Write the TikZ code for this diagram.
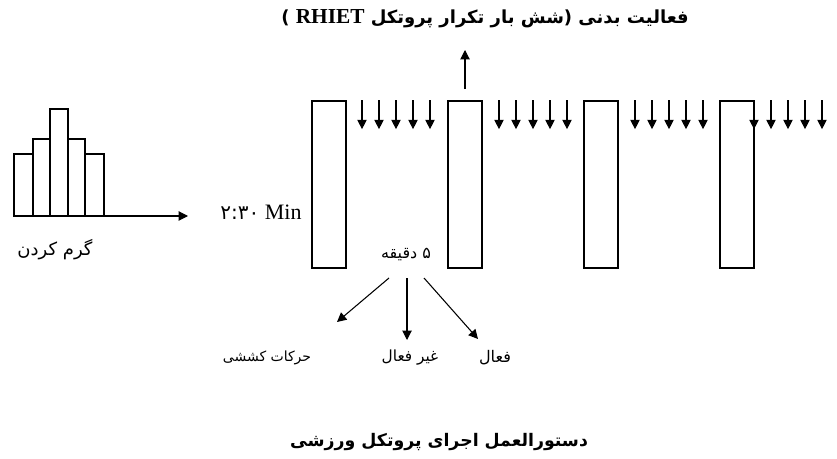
\documentclass[tikz,border=0pt]{standalone}
\usepackage{fontspec}
\setmainfont{Liberation Serif}
\newfontfamily\fa[Script=Arabic]{DejaVu Sans}
\TeXXeTstate=1
\usetikzlibrary{arrows.meta}

\begin{document}
\begin{tikzpicture}[x=0.75pt,y=-0.75pt,>={Triangle[length=7pt,width=7pt]},font=\fontsize{15}{18}\selectfont]
    \tikzstyle{bar}=[draw=black, line width=1.5pt, fill=none]
    \tikzstyle{block}=[draw=black, line width=1.5pt, minimum width=25.5pt, minimum height=125pt, inner sep=0pt]
    \tikzstyle{txt}=[inner sep=1pt, text=black]
    \tikzstyle{farsi}=[txt, font=\fa\fontsize{12}{15}\selectfont]
    \tikzstyle{link}=[->, line width=0.8pt]

    \useasboundingbox (0,0) rectangle (837,459);

    % warm-up bars
    \foreach \xa/\xb/\h in {14/33/154, 33/50/139, 50/68/109, 68/85/139, 85/104/154}
        \draw[bar] (\xa,216) rectangle (\xb,\h);
    \coordinate (w0) at (104,216);
    \coordinate (w1) at (188,216);
    \node[farsi, font=\fa\fontsize{13.5}{16}\selectfont] (warm) at (55,250) {\beginR گرم کردن\endR};
    \node[txt, font=\fontsize{16.5}{19}\selectfont] (min) at (261,212) {{\fa\fontsize{15}{18}\selectfont ۲:۳۰} Min};

    % exercise blocks
    \node[block] (r1) at (329,184.5) {};
    \node[block] (r2) at (465,184.5) {};
    \node[block] (r3) at (601,184.5) {};
    \node[block] (r4) at (737,184.5) {};

    \foreach \g/\off in {1/16, 2/17, 3/17, 4/0}
      \foreach \i in {1,...,5} {
        \path (r\g.north) ++(\off+17*\i,0) coordinate (a\g\i) ++(0,29) coordinate (b\g\i);
        \draw[link] (a\g\i) -- (b\g\i);
      }

    \node[farsi, font=\fa\bfseries\fontsize{13.5}{16}\selectfont] (act) at (485,19) {\beginR فعالیت بدنی (شش بار تکرار پروتکل {\fontsize{16}{18}\selectfont\rmfamily\bfseries\beginL RHIET\endL} )\endR};
    \path (r2.north) ++(0,-11) coordinate (u0);
    \coordinate (u1) at (465,50);

    \node[farsi] (five) at (406,255) {\beginR ۵ دقیقه\endR};
    \coordinate (s1) at (389,278);
    \coordinate (s2) at (407,278);
    \coordinate (s3) at (424,278);
    \coordinate (t1) at (337,322);
    \coordinate (t2) at (407,340);
    \coordinate (t3) at (478,339);
    \node[farsi, font=\fa\fontsize{10.5}{13}\selectfont] (stretch) at (267,358) {\beginR حرکات کششی\endR};
    \node[farsi, font=\fa\fontsize{11.5}{14}\selectfont] (passive) at (410,358) {\beginR غیر فعال\endR};
    \node[farsi] (active)  at (495,358) {\beginR فعال\endR};

    \node[farsi, font=\fa\bfseries\fontsize{13}{16}\selectfont] (title) at (439,442) {\beginR دستورالعمل اجرای پروتکل ورزشی\endR};

    \path
     (w0) edge[link] (w1)
     (u0) edge[link] (u1)
     (s1) edge[link] (t1)
     (s2) edge[link] (t2)
     (s3) edge[link] (t3)
     ;
\end{tikzpicture}
\end{document}
